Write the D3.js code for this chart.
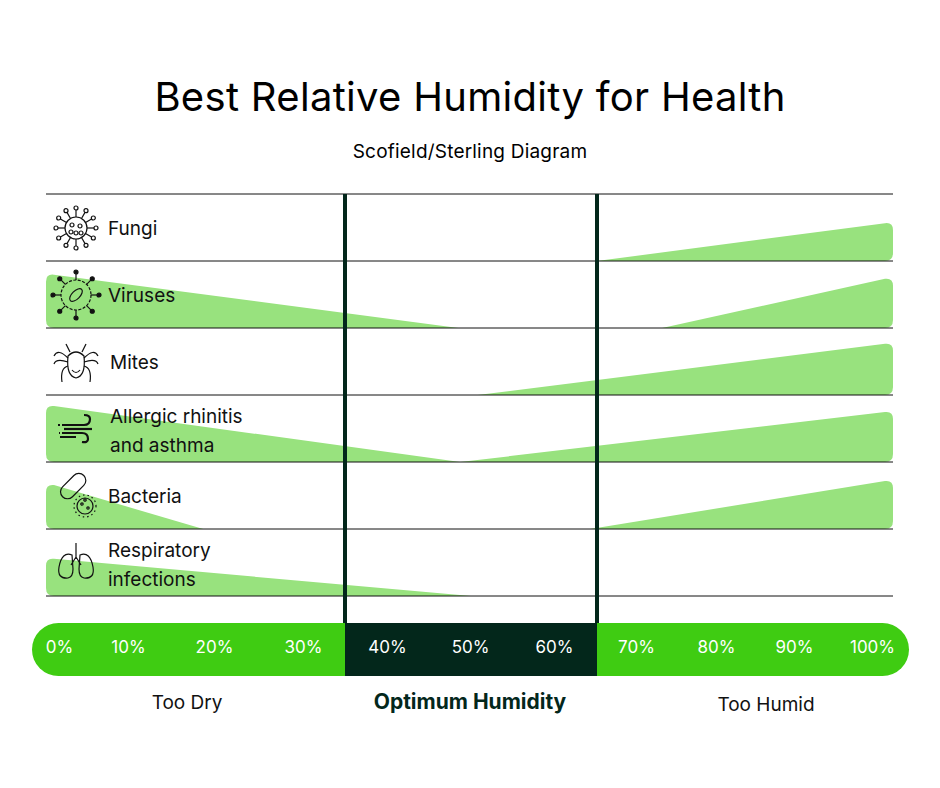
<!DOCTYPE html>
<html><head><meta charset="utf-8">
<script src="https://cdn.jsdelivr.net/npm/d3@7"></script>
<style>
body{margin:0;background:#fff;font-family:Inter,"Noto Sans",sans-serif}
.tick text{fill:#fff;font-size:17px;font-family:Inter,sans-serif}
</style></head><body>
<div id="chart"></div>
<script>
// data
const categories = ['Fungi','Viruses','Mites','Allergic rhinitis|and asthma','Bacteria','Respiratory|infections'];
const icons = ['fungi','virus','mite','wind','bacteria','lungs'];
// left wedges: height at 0% (fraction of row), end %
const leftHeight = [0, 0.81, 0, 0.85, 0.67, 0.57];
const leftEnd    = [0, 48.5, 0, 48.7, 18.4, 50];
// right wedges: start %, height at 100%
const rightStart  = [65, 72.7, 50.8, 48.7, 64.2, null];
const rightHeight = [0.58, 0.75, 0.78, 0.76, 0.73, 0];
const tickValues = [0,10,20,30,40,50,60,70,80,90,100];
const optimum = [35, 65];
const zones = ['Too Dry','Optimum Humidity','Too Humid'];

const W = 940, H = 788;
const svg = d3.select('#chart').append('svg').attr('width', W).attr('height', H);
const dark = '#03271b', green = '#3fcc12', light = '#98e27e';

// scales
const x = d3.scaleLinear([0, 35, 65, 100], [46, 345, 597, 893]);
const xTick = d3.scaleLinear(tickValues, [59,128,214,303,387,470,554,636,716,794,872]);
const rowTop = 194, rowH = 67;
const y = d3.scaleLinear([0, 1], [0, rowH]);

svg.append('text').attr('x', 470).attr('y', 111).attr('text-anchor', 'middle')
  .attr('font-size', 40).attr('letter-spacing', 0.3).text('Best Relative Humidity for Health');
svg.append('text').attr('x', 470).attr('y', 158).attr('text-anchor', 'middle')
  .attr('font-size', 19).attr('letter-spacing', 0.2).text('Scofield/Sterling Diagram');

const rows = svg.selectAll('g.row').data(categories).join('g')
  .attr('class', 'row').attr('transform', (d, i) => `translate(0,${rowTop + i * rowH})`);

function wedge(x0, x1, h, leftTall) {
  const b = rowH, r = 8;
  if (leftTall) {
    return `M${x0},${b - r} L${x0},${b - h + r} Q${x0},${b - h} ${x0 + r},${b - h + 1}` +
      ` L${x1},${b} L${x0 + r},${b} Q${x0},${b} ${x0},${b - r}Z`;
  }
  return `M${x0},${b} L${x1 - r},${b - h + 1} Q${x1},${b - h} ${x1},${b - h + r}` +
    ` L${x1},${b - r} Q${x1},${b} ${x1 - r},${b}Z`;
}
rows.each(function(d, i) {
  const g = d3.select(this);
  if (leftHeight[i] > 0)
    g.append('path').attr('fill', light).attr('d', wedge(x(0), x(leftEnd[i]), y(leftHeight[i]), true));
  if (rightHeight[i] > 0)
    g.append('path').attr('fill', light).attr('d', wedge(x(rightStart[i]), x(100), y(rightHeight[i]), false));
});

// row lines
svg.selectAll('line.rl').data(d3.range(categories.length + 1)).join('line')
  .attr('x1', 46).attr('x2', 893)
  .attr('y1', i => rowTop + i * rowH).attr('y2', i => rowTop + i * rowH)
  .attr('stroke', '#111').attr('stroke-width', 1);

// labels
rows.each(function(d, i) {
  const g = d3.select(this), parts = d.split('|');
  const t = g.append('text').attr('x', i === 2 ? 110 : 108).attr('font-size', 19).attr('fill', '#111');
  if (parts.length === 1) t.attr('y', 41).text(parts[0]);
  else parts.forEach((p, k) => t.append('tspan').attr('x', 110 - (i === 5 ? 2 : 0)).attr('y', 28 + k * 29).text(p));
  drawIcon(g.append('g').attr('transform', 'translate(76,34)'), icons[i]);
});

function drawIcon(g, type) {
  const s = g.append('g').attr('fill', 'none').attr('stroke', '#111').attr('stroke-width', 1.2);
  if (type === 'fungi' || type === 'virus') {
    const R = type === 'fungi' ? 11 : 15;
    const c = s.append('circle').attr('r', R);
    if (type === 'virus') c.attr('stroke-dasharray', '3 1.5');
    d3.range(type === 'fungi' ? 12 : 8).forEach(k => {
      const a = k * Math.PI * 2 / (type === 'fungi' ? 12 : 8);
      const r2 = R + (type === 'fungi' ? 7 : 6);
      s.append('line').attr('x1', R * Math.cos(a)).attr('y1', R * Math.sin(a))
        .attr('x2', r2 * Math.cos(a)).attr('y2', r2 * Math.sin(a));
      s.append('circle').attr('cx', (r2 + 2) * Math.cos(a)).attr('cy', (r2 + 2) * Math.sin(a)).attr('r', 2)
        .attr('fill', type === 'virus' ? '#111' : 'none');
    });
    if (type === 'fungi') [[-4,-3],[4,-2],[0,5],[-5,4],[5,5]].forEach(p => s.append('circle').attr('cx', p[0]).attr('cy', p[1]).attr('r', 2));
    else s.append('ellipse').attr('rx', 8).attr('ry', 4).attr('transform', 'rotate(-45)');
  } else if (type === 'mite') {
    s.append('path').attr('d', 'M-8,-6 Q-10,14 0,16 Q10,14 8,-6 Q0,-14 -8,-6Z');
    s.append('path').attr('d', 'M-4,8 Q0,13 4,8');
    [-1, 1].forEach(sg => {
      s.append('path').attr('d', `M${8*sg},-4 Q${18*sg},-14 ${22*sg},-6`);
      s.append('path').attr('d', `M${8*sg},0 Q${20*sg},-4 ${22*sg},2`);
      s.append('path').attr('d', `M${8*sg},4 Q${16*sg},6 ${14*sg},20`);
      s.append('path').attr('d', `M${6*sg},-10 L${10*sg},-18`);
    });
  } else if (type === 'wind') {
    s.attr('stroke-width', 2.2);
    s.append('path').attr('d', 'M-14,-4 H8 Q14,-4 14,-10 Q14,-14 8,-14');
    s.append('path').attr('d', 'M-12,0 H16');
    s.append('path').attr('d', 'M-14,4 H6 Q12,4 12,10 Q12,14 6,13');
    s.append('path').attr('d', 'M-18,-4 H-16 M-16,4 H-17 M-16,8 H0');
  } else if (type === 'bacteria') {
    s.append('rect').attr('x', -16).attr('y', -20).attr('width', 14).attr('height', 30).attr('rx', 7)
      .attr('transform', 'rotate(45)');
    s.append('circle').attr('cx', 9).attr('cy', 10).attr('r', 8);
    s.append('circle').attr('cx', 9).attr('cy', 10).attr('r', 11).attr('stroke-dasharray', '1.5 3');
    [[6,8],[12,12],[9,4]].forEach(p => s.append('circle').attr('cx', p[0]).attr('cy', p[1]).attr('r', 1.2));
  } else if (type === 'lungs') {
    s.append('path').attr('d', 'M0,-20 V-4 M0,-6 L-5,2 M0,-6 L5,2');
    s.append('path').attr('d', 'M-4,-8 Q-14,-12 -17,4 Q-19,16 -8,15 Q-3,14 -3,6 Z');
    s.append('path').attr('d', 'M4,-8 Q14,-12 17,4 Q19,16 8,15 Q3,14 3,6 Z');
  }
}

// optimum band & bar
const barY = 623, barH = 53;
svg.append('rect').attr('x', 32).attr('y', barY).attr('width', 877).attr('height', barH)
  .attr('rx', 26.5).attr('fill', green);
svg.append('rect').attr('x', x(optimum[0])).attr('y', barY).attr('width', x(optimum[1]) - x(optimum[0]))
  .attr('height', barH).attr('fill', dark);
svg.selectAll('line.opt').data(optimum).join('line')
  .attr('x1', d => x(d)).attr('x2', d => x(d)).attr('y1', rowTop).attr('y2', barY)
  .attr('stroke', dark).attr('stroke-width', 4);

const axis = svg.append('g').attr('transform', `translate(0,${barY + 15})`)
  .call(d3.axisBottom(xTick).tickValues(tickValues).tickSize(0).tickFormat(d => d + '%'));
axis.select('.domain').remove();

svg.selectAll('text.zone').data(zones).join('text')
  .attr('x', (d, i) => [187, 470, 766][i]).attr('y', (d, i) => [709, 709, 711][i])
  .attr('text-anchor', 'middle').attr('font-size', (d, i) => i === 1 ? 21 : 19)
  .attr('font-weight', (d, i) => i === 1 ? 700 : 400)
  .attr('fill', (d, i) => i === 1 ? dark : '#111').text(d => d);
</script></body></html>
